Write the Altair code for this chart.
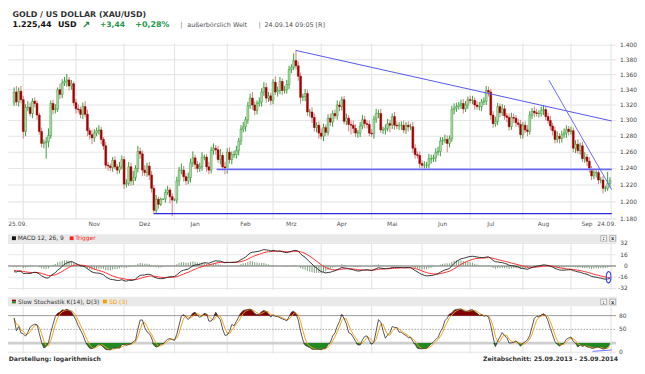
import altair as alt
import pandas as pd

FONT = "DejaVu Sans"

# ---------------- values ----------------
title_text = "GOLD / US DOLLAR (XAU/USD)"
last_price_text = "1.225,44"
currency_text = "USD"
change_abs_text = "+3,44"
change_pct_text = "+0,28%"
venue_text = "außerbörslich Welt"
stamp_text = "24.09.14 09:05 [R]"
display_text = "Darstellung: logarithmisch"
period_text = "Zeitabschnitt: 25.09.2013 - 25.09.2014"

month_names = ["Nov", "Dez", "Jan", "Feb", "Mrz", "Apr", "Mai", "Jun", "Jul", "Aug", "Sep"]
month_label_idx = [35, 57, 79, 101, 121, 143, 165, 187, 208, 231, 250]
month_start_idx = [4, 27, 48, 70, 93, 113, 134, 156, 178, 199, 222, 243, 260.5]
first_label = "25.09."
last_label = "24.09."

price_ticks = [1400, 1380, 1360, 1340, 1320, 1300, 1280, 1260, 1240, 1220, 1200, 1180]
macd_ticks = [32, 16, 0, -16, -32]
stoch_ticks = [80, 50, 0]

first_open = 1323
close_sep13 = [1337, 1324, 1338, 1327]
close_oct13 = [1286, 1317, 1317, 1309, 1325, 1322, 1307, 1286, 1271, 1272,
               1273, 1281, 1322, 1314, 1315, 1340, 1334, 1349, 1351, 1353,
               1345, 1348, 1323]
close_nov13 = [1315, 1314, 1308, 1318, 1308, 1287, 1282, 1278, 1284, 1287,
               1288, 1276, 1268, 1244, 1243, 1241, 1250, 1242, 1238, 1242, 1251]
close_dec13 = [1221, 1222, 1242, 1225, 1229, 1240, 1261, 1258, 1238, 1235,
               1243, 1232, 1216, 1190, 1203, 1197, 1203, 1203, 1211, 1214, 1206, 1202]
close_jan14 = [1202, 1225, 1238, 1238, 1230, 1225, 1229, 1247, 1253, 1245,
               1240, 1242, 1254, 1254, 1242, 1238, 1262, 1265, 1263, 1251,
               1256, 1242, 1240]
close_feb14 = [1260, 1251, 1257, 1257, 1262, 1274, 1289, 1292, 1301, 1319,
               1329, 1320, 1313, 1322, 1324, 1337, 1343, 1329, 1332, 1326]
close_mar14 = [1350, 1337, 1339, 1351, 1339, 1340, 1347, 1367, 1370, 1379,
               1372, 1358, 1330, 1331, 1335, 1311, 1311, 1304, 1291, 1294, 1284]
close_apr14 = [1280, 1291, 1285, 1303, 1298, 1309, 1306, 1320, 1318, 1327,
               1299, 1303, 1295, 1294, 1290, 1284, 1284, 1293, 1301, 1296, 1295, 1284]
close_may14 = [1283, 1302, 1309, 1309, 1288, 1288, 1290, 1296, 1294, 1305,
               1294, 1293, 1294, 1294, 1288, 1294, 1292, 1292, 1265, 1257, 1256, 1246]
close_jun14 = [1244, 1244, 1244, 1252, 1252, 1253, 1260, 1261, 1274, 1275,
               1276, 1271, 1277, 1314, 1316, 1318, 1320, 1322, 1315, 1320, 1327]
close_jul14 = [1326, 1326, 1320, 1318, 1318, 1324, 1325, 1339, 1337, 1307,
               1296, 1299, 1318, 1310, 1315, 1306, 1304, 1292, 1304, 1303,
               1297, 1295, 1282]
close_aug14 = [1294, 1288, 1286, 1307, 1312, 1310, 1309, 1309, 1313, 1314,
               1305, 1300, 1293, 1287, 1276, 1280, 1277, 1282, 1284, 1289, 1286]
close_sep14 = [1287, 1265, 1270, 1262, 1268, 1252, 1254, 1249, 1239, 1231,
               1235, 1235, 1226, 1226, 1216, 1216, 1222, 1225.44]

upper_wick = (
    [6, 8, 5, 7]
    + [5, 4, 8, 6, 4, 5, 4, 3, 5, 4, 6, 9, 4, 5, 6, 3, 8, 5, 6, 8, 4, 5, 3]
    + [5, 6, 4, 5, 7, 6, 4, 6, 5, 4, 6, 4, 3, 5, 4, 3, 4, 5, 3, 6, 5]
    + [4, 5, 6, 5, 8, 4, 7, 5, 4, 6, 4, 5, 5, 4, 5, 3, 2, 1, 4, 5, 3, 4]
    + [2, 5, 4, 8, 5, 4, 6, 5, 8, 4, 4, 5, 6, 3, 4, 6, 5, 6, 4, 5, 8, 4, 6]
    + [5, 6, 4, 5, 6, 4, 5, 6, 4, 5, 6, 8, 5, 4, 6, 5, 7, 6, 5, 4]
    + [4, 8, 5, 6, 4, 5, 6, 5, 4, 10, 13, 6, 5, 4, 6, 5, 4, 6, 5, 4, 5]
    + [6, 5, 4, 5, 6, 4, 5, 6, 5, 4, 5, 6, 4, 5, 6, 5, 4, 5, 6, 5, 4, 5]
    + [5, 4, 6, 5, 6, 4, 5, 6, 5, 4, 6, 5, 4, 5, 6, 4, 5, 4, 6, 5, 4, 5]
    + [4, 5, 4, 6, 5, 4, 5, 6, 5, 4, 6, 5, 4, 5, 6, 5, 4, 5, 6, 5, 4]
    + [5, 6, 4, 5, 6, 4, 5, 6, 5, 4, 5, 6, 5, 4, 6, 5, 4, 5, 6, 5, 4, 5, 6]
    + [4, 5, 6, 5, 4, 6, 5, 4, 5, 6, 4, 5, 6, 4, 5, 6, 4, 5, 6, 5, 4]
    + [5, 4, 5, 6, 4, 5, 6, 4, 5, 4, 5, 4, 6, 4, 5, 3, 14, 4]
)
lower_wick = (
    [4, 5, 6, 5]
    + [9, 6, 5, 4, 6, 5, 6, 4, 5, 6, 20, 7, 4, 6, 5, 4, 6, 5, 4, 7, 6, 5, 4]
    + [6, 4, 5, 6, 4, 7, 6, 8, 5, 4, 5, 6, 5, 4, 6, 4, 5, 3, 5, 4, 3]
    + [6, 4, 3, 6, 5, 4, 5, 6, 7, 4, 5, 6, 5, 4, 3, 5, 2, 1, 4, 3, 8, 19]
    + [1, 4, 6, 5, 6, 5, 4, 6, 5, 6, 5, 4, 5, 4, 6, 5, 4, 5, 6, 4, 6, 5, 7]
    + [6, 5, 6, 4, 5, 6, 5, 4, 6, 5, 4, 6, 6, 5, 4, 6, 5, 6, 5, 6]
    + [5, 4, 6, 5, 6, 4, 5, 6, 5, 4, 5, 6, 8, 5, 6, 5, 6, 7, 5, 6, 7]
    + [4, 6, 5, 4, 5, 6, 4, 5, 6, 5, 4, 5, 9, 12, 6, 5, 6, 5, 4, 6, 5, 4]
    + [4, 6, 5, 6, 4, 5, 6, 4, 9, 5, 6, 4, 5, 6, 4, 5, 6, 4, 6, 5, 4, 6]
    + [6, 5, 4, 5, 6, 4, 5, 4, 6, 5, 4, 11, 5, 4, 6, 5, 4, 5, 6, 4, 5]
    + [4, 5, 6, 4, 5, 6, 4, 5, 6, 6, 5, 4, 5, 6, 4, 5, 6, 5, 4, 6, 5, 4, 5]
    + [5, 4, 6, 4, 5, 6, 4, 5, 4, 6, 5, 4, 5, 6, 5, 4, 6, 5, 4, 6, 5]
    + [4, 5, 6, 4, 5, 4, 5, 6, 4, 5, 4, 6, 5, 4, 6, 4, 3, 5]
)

# indicator start state read from the left end of the MACD panel
ema_fast_seed, ema_slow_seed, trigger_seed = 1335.0, 1344.0, -6.0

# drawn lines (index, price)
trend_top = [(122.8, 1393.0), (260.8, 1299.4)]
support_1240 = [(88.4, 1239.0), (260.8, 1239.0)]
support_1186 = [(60.9, 1186.0), (260.8, 1186.0)]
trend_steep = [(233.4, 1352.6), (260.8, 1214.3)]
macd_mark = (259.4, -16.0)
stoch_mark = [(252.4, 2.0), (260.8, 5.0)]

# ---------------- build table ----------------
closes = (close_sep13 + close_oct13 + close_nov13 + close_dec13 + close_jan14 + close_feb14
          + close_mar14 + close_apr14 + close_may14 + close_jun14 + close_jul14 + close_aug14
          + close_sep14)
n = min(len(closes), len(upper_wick), len(lower_wick))
closes = closes[:n]
opens = [first_open] + closes[:-1]
highs = [max(o, c) + u for o, c, u in zip(opens, closes, upper_wick)]
lows = [min(o, c) - d for o, c, d in zip(opens, closes, lower_wick)]


def ema(vals, span, seed):
    a = 2.0 / (span + 1)
    e = seed
    out = []
    for v in vals:
        e += a * (v - e)
        out.append(e)
    return out


e12 = ema(closes, 12, ema_fast_seed)
e26 = ema(closes, 26, ema_slow_seed)
macd = [a - b for a, b in zip(e12, e26)]
trig = ema(macd, 9, trigger_seed)

df = pd.DataFrame({"i": list(range(n)), "o": opens, "c": closes, "h": highs, "l": lows})
df["macd"] = macd
df["trig"] = trig
df["hist"] = df["macd"] - df["trig"]
df["zero"] = 0.0
hh = df["h"].rolling(14, min_periods=1).max()
ll = df["l"].rolling(14, min_periods=1).min()
fastk = 100 * (df["c"] - ll) / (hh - ll)
df["k"] = fastk.rolling(3, min_periods=1).mean()
df["d"] = df["k"].rolling(3, min_periods=1).mean()
df["khi"] = df["k"].clip(lower=80)
df["klo"] = df["k"].clip(upper=20)
df["k80"] = 80.0
df["k20"] = 20.0
bull = df["c"] >= df["o"]
df["bl"] = df[["o", "c"]].min(axis=1)
df["bh"] = df[["o", "c"]].max(axis=1)
df["bc"] = bull.map({True: "#b7deb0", False: "#a00000"})
df["sc"] = bull.map({True: "#2f982f", False: "#a00000"})
df["wc"] = bull.map({True: "#3c9c3c", False: "#cf8282"})

# ---------------- layout (svg px) ----------------
XR = 614.8
XS = alt.Scale(domain=[-0.5, 260.5], range=[0, XR])
PS = alt.Scale(type="log", domain=[1180, 1400], range=[211.2, 35.7])
MS = alt.Scale(domain=[-32, 32], range=[281.6, 236.1])
SS = alt.Scale(domain=[0, 100], range=[346.1, 299.8])
one = pd.DataFrame({"k": [0]})


def X(f="i:Q"):
    return alt.X(f, scale=XS, axis=None)


def T(s, x, y, size=6.0, color="#333333", bold=False, align="left", baseline="middle"):
    return alt.Chart(one).mark_text(
        font=FONT, fontSize=size, fontWeight="bold" if bold else "normal",
        color=color, align=align, baseline=baseline
    ).encode(x=alt.value(x), y=alt.value(y), text=alt.value(s))


def R(x0, x1, y0, y1, fill, stroke="", sw=0.0):
    if stroke:
        m = alt.Chart(one).mark_rect(fill=fill, stroke=stroke, strokeWidth=sw)
    else:
        m = alt.Chart(one).mark_rect(fill=fill)
    return m.encode(x=alt.value(x0), x2=alt.value(x1), y=alt.value(y0), y2=alt.value(y1))


ms_df = pd.DataFrame({"m": month_start_idx})


def vgrid(y0, y1):
    return alt.Chart(ms_df).mark_rule(color="#e6e6e6", strokeWidth=1.2).encode(
        x=X("m:Q"), y=alt.value(y0), y2=alt.value(y1))


def hline(vals, scale, color, width, dash=None):
    kw = dict(color=color, strokeWidth=width)
    if dash:
        kw["strokeDash"] = dash
    return alt.Chart(pd.DataFrame({"v": vals})).mark_rule(**kw).encode(
        y=alt.Y("v:Q", scale=scale, axis=None), x=alt.value(0), x2=alt.value(XR))


def seg(points, scale, color, width):
    d = pd.DataFrame({"i": [p[0] for p in points], "v": [p[1] for p in points]})
    return alt.Chart(d).mark_line(color=color, strokeWidth=width).encode(
        x=X(), y=alt.Y("v:Q", scale=scale, axis=None))


layers = []

# header
layers += [
    T(title_text, 4.6, 7.2, 8, "#333333", True, baseline="alphabetic"),
    T(last_price_text, 4.6, 17.6, 8, "#111111", True, baseline="alphabetic"),
    T(currency_text, 50.5, 17.6, 8, "#111111", True, baseline="alphabetic"),
    T("\u2197", 74.8, 18.2, 10, "#1d7f3a", True, baseline="alphabetic"),
    T(change_abs_text, 93.1, 17.6, 7.6, "#22994a", True, baseline="alphabetic"),
    T(change_pct_text, 128.7, 17.6, 8, "#22994a", True, baseline="alphabetic"),
    T("|", 174.2, 17.6, 7, "#8a8a8a", baseline="alphabetic"),
    T(venue_text, 181.2, 17.2, 6.5, "#555555", baseline="alphabetic"),
    T("|", 253.4, 17.6, 7, "#8a8a8a", baseline="alphabetic"),
    T(stamp_text, 259.4, 17.2, 6.5, "#555555", baseline="alphabetic"),
]

# main price panel
price_df = pd.DataFrame({"p": price_ticks})
price_df["lab"] = [f"{p / 1000:.3f}" for p in price_ticks]
layers += [
    vgrid(33.5, 212.5),
    hline(price_ticks, PS, "#e6e6e6", 1.2),
    alt.Chart(df).mark_rule(strokeWidth=1).encode(
        x=X(), y=alt.Y("l:Q", scale=PS, axis=None), y2="h:Q",
        color=alt.Color("wc:N", scale=None)),
    alt.Chart(df).mark_bar(size=1.9, strokeWidth=0.5).encode(
        x=X(), y=alt.Y("bl:Q", scale=PS, axis=None), y2="bh:Q",
        fill=alt.Fill("bc:N", scale=None), stroke=alt.Stroke("sc:N", scale=None)),
    seg(support_1186, PS, "#2a2ae0", 1.2),
    seg(support_1240, PS, "#bcbcff", 2.2),
    seg(support_1240, PS, "#5050ee", 1.0),
    seg(trend_top, PS, "#5656f0", 1.0),
    seg(trend_steep, PS, "#6a6aff", 1.0),
    alt.Chart(price_df).mark_text(font=FONT, fontSize=6, color="#444444", align="left",
                                  baseline="middle").encode(
        y=alt.Y("p:Q", scale=PS, axis=None), x=alt.value(618.8), text="lab:N"),
    alt.Chart(pd.DataFrame({"i": month_label_idx, "t": month_names})).mark_text(
        font=FONT, fontSize=6, color="#555555", align="center", baseline="middle").encode(
        x=X(), y=alt.value(216.8), text="t:N"),
    T(first_label, 0.3, 216.8, 6, "#555555"),
    T(last_label, XR, 216.8, 6, "#555555", align="right"),
]

# MACD panel
layers += [
    R(0, XR + 1, 226.8, 235.4, "#e9e9e9"),
    R(4, 8, 228.9, 232.7, "#111111"),
    T("MACD 12, 26, 9", 9.8, 230.9, 6, "#333333"),
    R(62.4, 66.3, 228.9, 232.7, "#ff2020"),
    T("Trigger", 68, 230.9, 6, "#ff2020"),
    R(599.3, 605.2, 228.2, 233.8, "#f7f7f7", "#8a8a8a", 0.6),
    R(608.5, 614.4, 228.2, 233.8, "#f7f7f7", "#8a8a8a", 0.6),
    T(":", 602.2, 231.0, 5, "#333333", True, align="center"),
    T("x", 611.4, 230.8, 5, "#333333", True, align="center"),
    vgrid(235.4, 283.3),
    hline([32, 16, -16, -32], MS, "#e6e6e6", 1.2),
    hline([0], MS, "#9a9a9a", 1.4),
    alt.Chart(df).mark_rule(color="#7f9e7f", strokeWidth=1).encode(
        x=X(), y=alt.Y("hist:Q", scale=MS, axis=None), y2="zero:Q"),
    alt.Chart(df).mark_line(color="#ff3030", strokeWidth=1).encode(
        x=X(), y=alt.Y("trig:Q", scale=MS, axis=None)),
    alt.Chart(df).mark_line(color="#222222", strokeWidth=0.9).encode(
        x=X(), y=alt.Y("macd:Q", scale=MS, axis=None)),
    alt.Chart(pd.DataFrame({"v": macd_ticks, "t": [str(v) for v in macd_ticks]})).mark_text(
        font=FONT, fontSize=6, color="#444444", align="right", baseline="middle").encode(
        y=alt.Y("v:Q", scale=MS, axis=None), x=alt.value(626.7), text="t:N"),
    alt.Chart(pd.DataFrame({"i": [macd_mark[0]], "v": [macd_mark[1]]})).mark_point(
        shape="M -0.42 0 A 0.42 1 0 1 1 0.42 0 A 0.42 1 0 1 1 -0.42 0 Z",
        size=130, filled=False, color="#3a3aff", strokeWidth=1.1, opacity=1).encode(
        x=X(), y=alt.Y("v:Q", scale=MS, axis=None)),
]

# stochastic panel
layers += [
    R(0, XR + 1, 290.0, 299.5, "#e9e9e9"),
    R(4, 8, 292.9, 294.8, "#8b0000"),
    R(4, 8, 294.8, 296.7, "#1f8a1f"),
    T("Slow Stochastik K(14), D(3)", 10.2, 295.0, 6, "#333333"),
    R(96, 100, 292.9, 296.7, "#f5a000"),
    T("SD (3)", 102, 295.0, 6, "#f5a000"),
    R(599.3, 605.2, 292.4, 298.0, "#f7f7f7", "#8a8a8a", 0.6),
    R(608.5, 614.4, 292.4, 298.0, "#f7f7f7", "#8a8a8a", 0.6),
    T(":", 602.2, 295.2, 5, "#333333", True, align="center"),
    T("x", 611.4, 295.0, 5, "#333333", True, align="center"),
    vgrid(299.5, 347.4),
    hline([0], SS, "#e6e6e6", 1.2),
    hline([20], SS, "#cfcfcf", 2.6),
    hline([50], SS, "#8a8a8a", 0.8, [1.5, 1.5]),
    hline([80], SS, "#9a9a9a", 1.0),
    alt.Chart(df).mark_area(color="#800000").encode(
        x=X(), y=alt.Y("khi:Q", scale=SS, axis=None), y2="k80:Q"),
    alt.Chart(df).mark_area(color="#1f8a1f").encode(
        x=X(), y=alt.Y("klo:Q", scale=SS, axis=None), y2="k20:Q"),
    alt.Chart(df).mark_line(color="#f5a31a", strokeWidth=1).encode(
        x=X(), y=alt.Y("d:Q", scale=SS, axis=None)),
    alt.Chart(df).mark_line(color="#444444", strokeWidth=0.9).encode(
        x=X(), y=alt.Y("k:Q", scale=SS, axis=None)),
    seg(stoch_mark, SS, "#7070ff", 1.0),
    alt.Chart(pd.DataFrame({"v": stoch_ticks, "t": [str(v) for v in stoch_ticks]})).mark_text(
        font=FONT, fontSize=6, color="#444444", align="left", baseline="middle").encode(
        y=alt.Y("v:Q", scale=SS, axis=None), x=alt.value(617.8), text="t:N"),
]

# footer
layers += [
    T(display_text, 0.7, 353.4, 6.2, "#333333", True),
    T(period_text, 616.8, 353.4, 6.2, "#333333", True, align="right"),
]

chart = alt.layer(*layers).resolve_scale(y="independent").properties(
    width=636, height=358, padding=0, autosize=alt.AutoSizeParams(type="none"),
    background="#ffffff",
).configure_view(strokeWidth=0)

chart.save("out.html", embed_options={"renderer": "svg", "actions": False})
